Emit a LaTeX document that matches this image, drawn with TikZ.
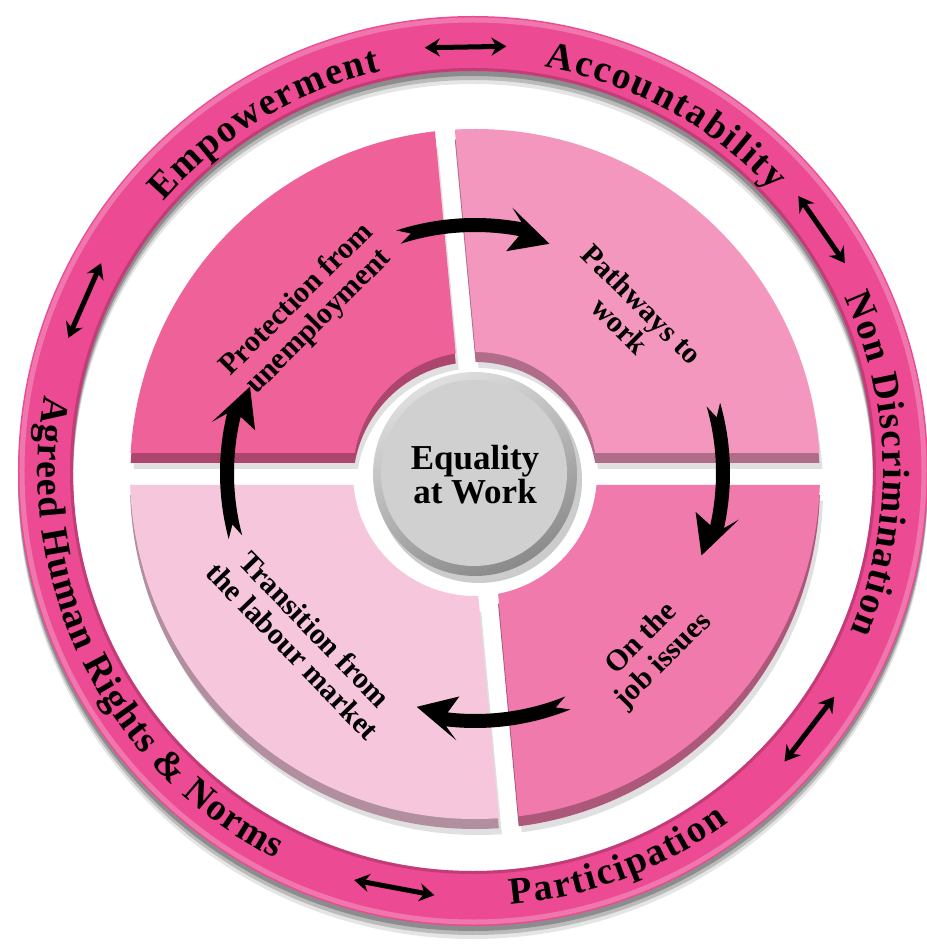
\documentclass[tikz,border=0pt]{standalone}
\usepackage{fontspec}
\setmainfont{Liberation Serif}
\usepackage{tikz}
\usetikzlibrary{arrows.meta, decorations.text}
\definecolor{ringpink}{RGB}{236,74,146}
\definecolor{tlpink}{RGB}{239,97,153}
\definecolor{trpink}{RGB}{243,151,190}
\definecolor{brpink}{RGB}{239,122,171}
\definecolor{blpink}{RGB}{246,198,220}
\definecolor{disk}{RGB}{208,208,208}
\definecolor{diskrim}{RGB}{138,138,138}
\def\ringfont{\fontsize{38}{38}\selectfont\bfseries}
% one quarter: shadow, bevel, face
\def\drawquarter#1#2{%
  \begin{scope}[shift={(3,-16)}]\clip #2; \fill[black, opacity=0.12, even odd rule] (2,-3) circle[radius=345pt] circle[radius=122pt];\end{scope}
  \begin{scope}[yshift=-10pt]\clip #2; \fill[#1!72!black, even odd rule] (2,-3) circle[radius=345pt] circle[radius=122pt];\end{scope}
  \begin{scope}\clip #2; \fill[#1, even odd rule] (2,-3) circle[radius=345pt] circle[radius=122pt];\end{scope}}

\begin{document}
\begin{tikzpicture}[x=1pt, y=1pt,
    ringtext/.style={decorate, decoration={text along path, text align={fit to path}, text={|\ringfont|#1}}},
    ringarrow/.style={line width=5pt, {Stealth[length=15pt, width=18pt]}-{Stealth[length=15pt, width=18pt]}},
    quarterlabel/.style={font=\fontsize{30}{31}\selectfont\bfseries, align=center}]
  \useasboundingbox (-473,-473) rectangle (453,471);
  \fill[white] (-473,-473) rectangle (453,471);
  % outer ring with its shadow
  \foreach \dy/\op in {-5/0.25, -9/0.18, -13/0.1}
    \fill[black, opacity=\op, even odd rule] (0,\dy) circle[radius=455pt] circle[radius=400pt];
  \fill[ringpink, even odd rule] (0,0) circle[radius=455pt] circle[radius=400pt];
  \draw[white, opacity=0.25, line width=5pt] (0,0) circle[radius=451pt];
  \draw[ringpink!65!black, opacity=0.5, line width=3pt] (0,0) circle[radius=401.5pt];
  % four quarters
  \drawquarter{tlpink}{(-500,18) -- (-8,18) -- (-53,500) -- (-500,500) -- cycle}
  \drawquarter{trpink}{(12,18) -- (-33,500) -- (500,500) -- (500,18) -- cycle}
  \drawquarter{brpink}{(15,-14) -- (60,-500) -- (500,-500) -- (500,-14) -- cycle}
  \drawquarter{blpink}{(-500,-14) -- (-5,-14) -- (40,-500) -- (-500,-500) -- cycle}
  % centre disk
  \fill[black, opacity=0.2] (6,-9) circle[radius=103pt];
  \shade[top color=gray!25, bottom color=diskrim, shading angle=25] (2,-3) circle[radius=102pt];
  \fill[disk] (1,-2) circle[radius=93pt];
  \node[font=\fontsize{35}{34}\selectfont\bfseries, align=center] (centre) at (2,-4) {Equality\\at Work};
  % quarter labels
  \node[quarterlabel, rotate=45] (protection) at (-165,160) {Protection from\\unemployment};
  \node[quarterlabel, rotate=-45] (pathways) at (158,156) {Pathways to\\work};
  \node[quarterlabel, rotate=45] (onjob) at (180,-179) {On the\\job issues};
  \node[quarterlabel, rotate=-46] (transition) at (-169,-169) {Transition from\\the labour market};
  % cycle arrows
  \begin{scope}[shift={(2,-2)}]
    \foreach \a in {108, 16, -68, 195}
      \fill[black] (\a:255pt) arc[start angle=\a, end angle=\a-28.5, radius=255pt] -- (\a-26:268pt) -- (\a-36:241pt) -- (\a-26:224pt) -- (\a-28.5:241pt) arc[start angle=\a-28.5, end angle=\a, radius=241pt] -- (\a-3:248pt) -- cycle;
  \end{scope}
  % arrows on the ring
  \foreach \a in {91, 34.7, -37.5, -100.7, 156.3}
    \draw[ringarrow] (\a+5.5:426pt) -- (\a-5.5:426pt);
  % ring texts
  \path[ringtext=Empowerment] (139:410pt) arc[start angle=139, end angle=103, radius=410pt];
  \path[ringtext=Accountability] (80:410pt) arc[start angle=80, end angle=43, radius=410pt];
  \path[ringtext=Non Discrimination] (25:410pt) arc[start angle=25, end angle=-23, radius=410pt];
  \path[ringtext=Participation] (-85:435pt) arc[start angle=-85, end angle=-54, radius=435pt];
  \path[ringtext={Agreed Human Rights {\&} Norms}] (170:435pt) arc[start angle=170, end angle=243, radius=435pt];
\end{tikzpicture}
\end{document}
